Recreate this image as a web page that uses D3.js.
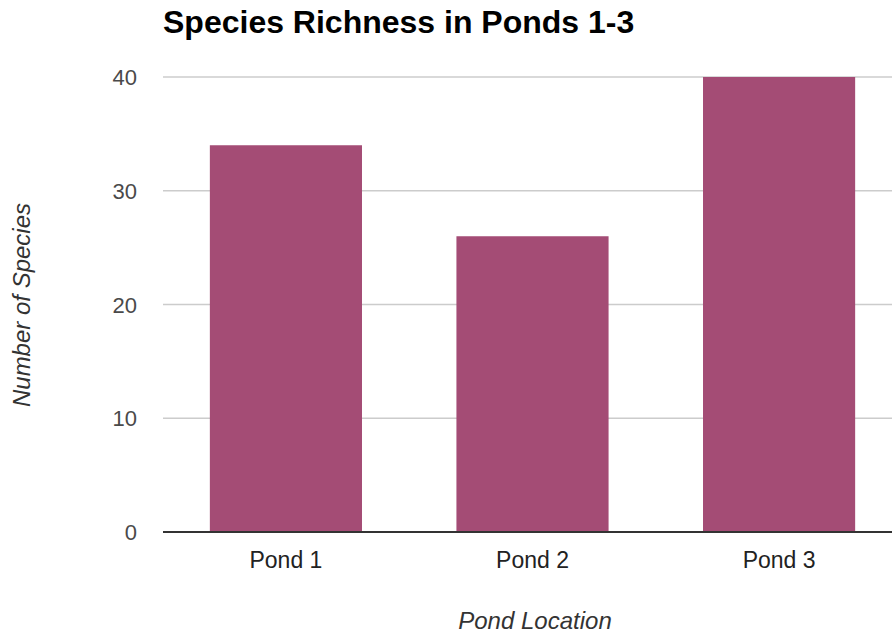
<!DOCTYPE html>
<html>
<head>
<meta charset="utf-8">
<script src="https://cdn.jsdelivr.net/npm/d3@7"></script>
<style>
  html, body { margin: 0; padding: 0; background: #fff; }
  svg { display: block; }
</style>
</head>
<body>
<svg id="chart" width="892" height="634"></svg>
<script>
// Species counts per pond
const categories = ["Pond 1", "Pond 2", "Pond 3"];
const speciesCounts = [34, 26, 40];
const yTicks = [0, 10, 20, 30, 40];

const svg = d3.select("#chart");
const W = 892, H = 634;
const plot = { left: 163, right: 902, top: 77, bottom: 532 };
const font = "'Liberation Sans', Arial, sans-serif";

const x = d3.scaleBand()
  .domain(categories)
  .range([plot.left, plot.right])
  .paddingInner(0.383)
  .paddingOuter(0.19);

const y = d3.scaleLinear()
  .domain([0, 40])
  .range([plot.bottom, plot.top]);

// Gridlines
svg.append("g")
  .selectAll("line")
  .data(yTicks.filter(d => d !== 0))
  .join("line")
  .attr("x1", plot.left).attr("x2", W)
  .attr("y1", d => y(d)).attr("y2", d => y(d))
  .attr("stroke", "#cccccc").attr("stroke-width", 1.5);

// Bars
svg.append("g")
  .selectAll("rect")
  .data(categories.map((c, i) => ({ c, v: speciesCounts[i] })))
  .join("rect")
  .attr("x", d => x(d.c))
  .attr("width", x.bandwidth())
  .attr("y", d => y(d.v))
  .attr("height", d => y(0) - y(d.v))
  .attr("fill", "#a44c75");

// Baseline
svg.append("line")
  .attr("x1", plot.left).attr("x2", W)
  .attr("y1", y(0)).attr("y2", y(0))
  .attr("stroke", "#333333").attr("stroke-width", 2);

// Y tick labels
svg.append("g")
  .selectAll("text")
  .data(yTicks)
  .join("text")
  .attr("x", 137)
  .attr("y", d => y(d) + 8)
  .attr("text-anchor", "end")
  .attr("font-family", font)
  .attr("font-size", 22)
  .attr("fill", "#4a4a4a")
  .text(d => d);

// X tick labels
svg.append("g")
  .selectAll("text")
  .data(categories)
  .join("text")
  .attr("x", d => x(d) + x.bandwidth() / 2)
  .attr("y", 568)
  .attr("text-anchor", "middle")
  .attr("font-family", font)
  .attr("font-size", 23)
  .attr("fill", "#222")
  .text(d => d);

// Title
svg.append("text")
  .attr("x", 163)
  .attr("y", 33)
  .attr("font-family", font)
  .attr("font-weight", "bold")
  .attr("font-size", 32)
  .attr("fill", "#000")
  .text("Species Richness in Ponds 1-3");

// Axis titles
svg.append("text")
  .attr("x", 535)
  .attr("y", 629)
  .attr("text-anchor", "middle")
  .attr("font-family", font)
  .attr("font-style", "italic")
  .attr("font-size", 24)
  .attr("fill", "#333")
  .text("Pond Location");

svg.append("text")
  .attr("transform", "translate(30,305) rotate(-90)")
  .attr("text-anchor", "middle")
  .attr("font-family", font)
  .attr("font-style", "italic")
  .attr("font-size", 24)
  .attr("fill", "#333")
  .text("Number of Species");
</script>
</body>
</html>
